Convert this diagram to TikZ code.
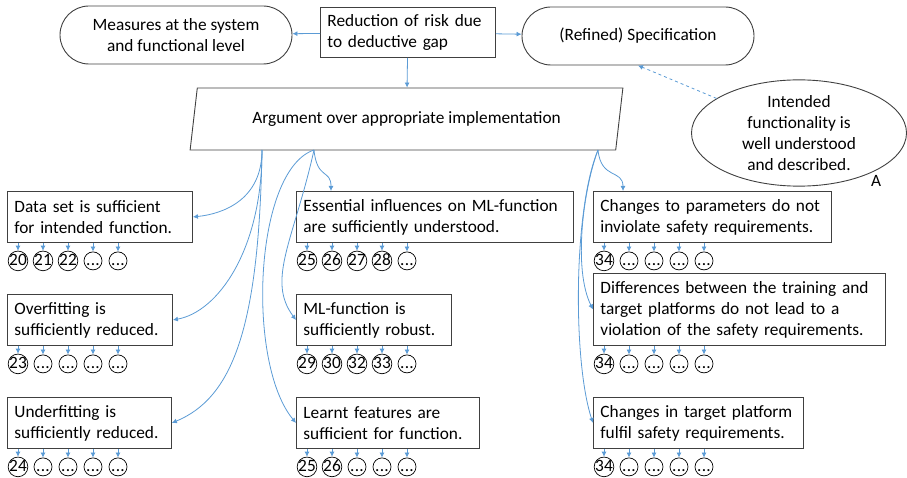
\documentclass[tikz,border=0pt]{standalone}
\usepackage{fontspec}
\setmainfont{Carlito}
\usepackage{tikz}
\usetikzlibrary{arrows.meta}
\usetikzlibrary{calc}
\usetikzlibrary{shapes.geometric}
\definecolor{link-blue}{RGB}{91,155,213}
\definecolor{box-gray}{RGB}{64,64,64}
\newcommand{\threedots}{.\kern0.3pt.\kern0.3pt.}

\begin{document}
\begin{tikzpicture}[x=1pt, y=-1pt, >={Latex[length=5pt,width=5pt]},
font=\fontsize{17.3}{21}\selectfont,
box/.style={draw=box-gray, line width=0.9pt, anchor=north west, align=left, inner xsep=7pt, inner ysep=0pt, minimum height=51pt},
pill/.style={draw=box-gray, line width=0.9pt, rounded corners=29pt, align=center, minimum width=232pt, minimum height=58pt},
num/.style={circle, draw=black, line width=0.7pt, inner sep=0pt, minimum size=18pt, text height=9pt, text depth=0pt},
link/.style={link-blue, line width=0.8pt, ->}]
\useasboundingbox (0,0) rectangle (907,478);

% top row
\node[box, minimum height=50pt, text width=161pt] (red) at (320,7) {Reduction of risk due\\to deductive gap};
\node[pill] (meas) at (176,35) {Measures at the system\\and functional level};
\node[pill] (spec) at (638,36) {(Refined) Specification};
\node[ellipse, draw=box-gray, line width=0.9pt, minimum width=215pt, minimum height=100pt, inner sep=0pt, align=center] (ell) at (799,133) {Intended\\functionality is\\well understood\\and described.};
\node (a) at (876,181) {A};

% argument
\node[trapezium, trapezium left angle=76, trapezium right angle=104, trapezium stretches=true,
  draw=box-gray, line width=0.9pt, minimum width=433pt, minimum height=62pt] (arg) at (406.5,119) {Argument over appropriate implementation};

% goals
\node[box, text width=171pt] (data) at (7,191) {Data set is sufficient\\for intended function.};
\node[box, text width=151pt] (over) at (7,294) {Overfitting is\\sufficiently reduced.};
\node[box, text width=150pt] (under) at (7,397) {Underfitting is\\sufficiently reduced.};
\node[box, text width=263pt] (ess) at (296,191) {Essential influences on ML-function\\are sufficiently understood.};
\node[box, text width=141pt] (ml) at (296,294) {ML-function is\\sufficiently robust.};
\node[box, text width=169pt] (learnt) at (296,397) {Learnt features are\\sufficient for function.};
\node[box, text width=224pt] (par) at (593,191) {Changes to parameters do not\\inviolate safety requirements.};
\node[box, text width=278pt, minimum height=72pt] (diff) at (593,273) {Differences between the training and\\target platforms do not lead to a\\violation of the safety requirements.};
\node[box, text width=196pt] (tgt) at (593,397) {Changes in target platform\\fulfil safety requirements.};

% numbered circles below the goals
\foreach \b/\nums in {data/{20,21,22,\threedots,\threedots}, over/{23,\threedots,\threedots,\threedots,\threedots},
  under/{24,\threedots,\threedots,\threedots,\threedots}, ess/{25,26,27,28,\threedots}, ml/{29,30,32,33,\threedots},
  learnt/{25,26,\threedots,\threedots,\threedots}, par/{34,\threedots,\threedots,\threedots,\threedots},
  diff/{34,\threedots,\threedots,\threedots,\threedots}, tgt/{34,\threedots,\threedots,\threedots,\threedots}} {
  \foreach \t [count=\i from 0] in \nums {
    \node[num] (\b-\i) at ($(\b.south west)+(11+25*\i,18)$) {\t};
    \draw[link] (\b-\i |- \b.south) -- (\b-\i);
  }
}

% links from the top
\draw[link] (red) -- (meas);
\draw[link] (red) -- (spec);
\draw[link] (red) -- (arg);
\draw[link, dashed] (ell) -- (spec.south);

% links below the argument
\coordinate (argL) at (262,150);
\coordinate (argM) at (314,150);
\coordinate (argR) at (598,150);

\draw[link] (argL) .. controls +(0,50) and +(30,-3) .. (data.east);
\draw[link] (argL) .. controls +(0,100) and +(45,-8) .. (over.east);
\draw[link] (argL) .. controls +(-3,180) and +(60,-25) .. (under.east);

\draw[link] (argM) .. controls +(3,30) and +(0,-22) .. ([xshift=35pt]ess.north west);
\draw[link] (argM) .. controls +(-20,90) and +(-30,-40) .. (ml.west);
\draw[link] (argM) .. controls +(-60,20) and +(-50,-60) .. (learnt.west);

\draw[link] (argR) .. controls +(3,30) and +(0,-22) .. ([xshift=30pt]par.north west);
\draw[link] (argR) .. controls +(-15,40) and +(-20,-40) .. (diff.west);
\draw[link] (argR) .. controls +(-25,60) and +(-20,-60) .. (tgt.west);

\end{tikzpicture}
\end{document}
